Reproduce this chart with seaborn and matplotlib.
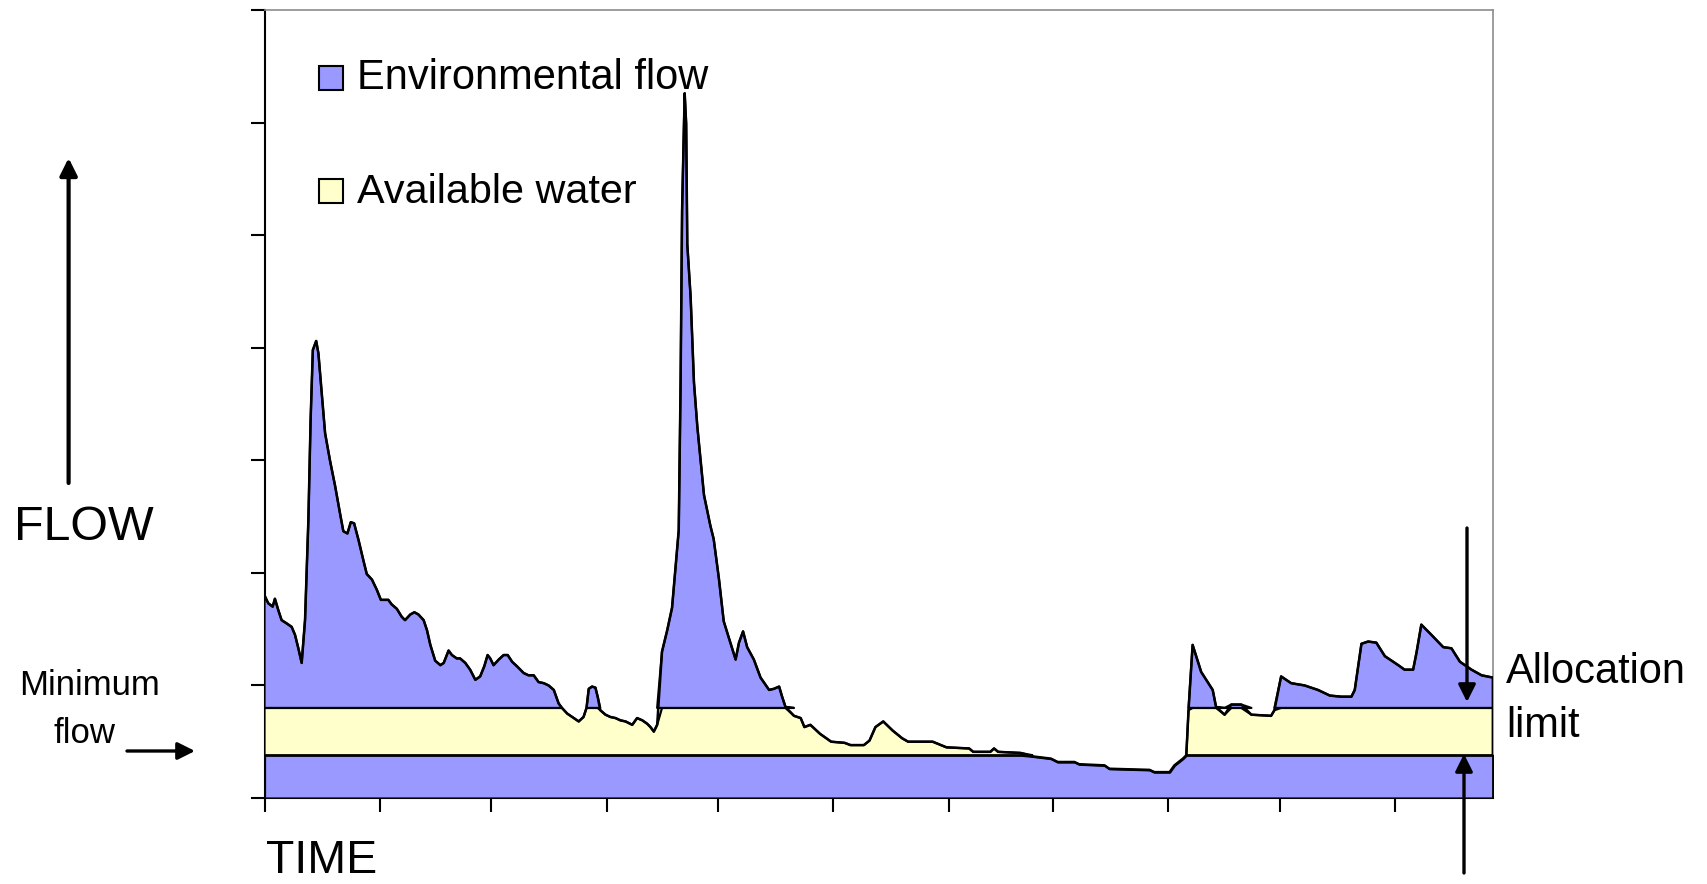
import numpy as np
import matplotlib
matplotlib.use("Agg")
import matplotlib.pyplot as plt
from matplotlib.patches import Rectangle
import seaborn as sns

# Hydrograph (day of record, flow in axis units)
days = [0, 1, 2.2, 2.8, 3.7, 4.6, 6, 7.3, 8.2, 9.1, 10, 10.9, 11.8, 12.4, 13, 13.9,
        14.5, 15.4, 16.3, 17.6, 19, 20.3, 21.2, 22.3, 23.2, 24.1, 25.3, 26.6, 27.5,
        28.9, 30.2, 31.3, 32.5, 33.3, 34.2, 35.6, 36.9, 37.8, 39.2, 40.3, 41.4, 42.8,
        43.7, 44.6, 45.9, 47.3, 48.2, 49.5, 50.4, 51.7, 52.6, 54, 55.3, 56.7, 58,
        59.1, 60, 60.7, 61.6, 63, 64.3, 65.4, 66.6, 67.9, 69.7, 71, 72.4, 73.7, 75.1,
        76.4, 77.8, 79.1, 80, 81.4, 83.2, 84.5, 85.8, 86.6, 87.2, 88.1, 89, 89.6,
        90.3, 91.7, 93, 94.4, 95.7, 97.1, 98.9, 100.2, 101.6, 102.9, 103.8, 104.7,
        105.6, 106.9, 108.3, 109.6, 110.5, 111.4, 111.9, 112.3, 112.8, 113.0, 113.4,
        113.7, 114.6, 115.5, 116.4, 117.3, 118.2, 119.9, 120.8, 122.2, 123.5, 124.9,
        126.7, 127.6, 128.7, 129.8, 131.6, 133.4, 135.7, 137.0, 138.4, 139.2, 140.1,
        142.4, 144.2, 145.2, 146.8, 149.4, 152.4, 156.0, 157.6, 161.2, 162.7, 164.3,
        166.4, 168.9, 171.5, 173.1, 179.7, 183.4, 189.5, 190.6, 195.2, 196.2, 197.3,
        203.4, 206.5, 211.5, 213.3, 217.8, 219.1, 225.9, 227.2, 238.0, 239.3, 243.4,
        244.7, 247.0, 247.9, 248.5, 249.6, 251.9, 255.0, 255.9, 258.2, 260.0, 262.7,
        265.4, 270.7, 271.6, 273.4, 276.1, 279.7, 283.3, 286.5, 289.6, 292.3, 293.2,
        295.0, 296.8, 299.0, 301.3, 304.9, 306.6, 308.9, 309.8, 311.1, 313.8, 317.0,
        319.2, 321.5, 324.6, 327.3, 330.3]
flow = [1.80, 1.73, 1.70, 1.77, 1.67, 1.58, 1.55, 1.52, 1.45, 1.33, 1.20, 1.58, 2.47,
        3.36, 3.98, 4.06, 3.95, 3.59, 3.24, 3.00, 2.77, 2.53, 2.37, 2.35, 2.45, 2.44,
        2.29, 2.11, 1.99, 1.94, 1.85, 1.76, 1.76, 1.76, 1.72, 1.68, 1.61, 1.58, 1.63,
        1.65, 1.63, 1.58, 1.49, 1.36, 1.22, 1.18, 1.20, 1.31, 1.27, 1.24, 1.24, 1.20,
        1.14, 1.05, 1.08, 1.17, 1.27, 1.24, 1.18, 1.23, 1.27, 1.27, 1.21, 1.17, 1.11,
        1.09, 1.09, 1.03, 1.02, 1.00, 0.96, 0.84, 0.80, 0.75, 0.71, 0.68, 0.72, 0.80,
        0.97, 0.99, 0.98, 0.90, 0.78, 0.74, 0.72, 0.71, 0.69, 0.68, 0.65, 0.71, 0.69,
        0.66, 0.63, 0.59, 0.65, 1.30, 1.49, 1.69, 2.03, 2.38, 3.69, 5.22, 5.99, 6.26,
        5.99, 4.92, 4.45, 3.69, 3.30, 2.99, 2.69, 2.42, 2.30, 1.95, 1.57, 1.42, 1.23,
        1.38, 1.48, 1.34, 1.23, 1.07, 0.96, 0.97, 0.99, 0.90, 0.81, 0.73, 0.71, 0.63,
        0.65, 0.57, 0.50, 0.49, 0.47, 0.47, 0.51, 0.63, 0.68, 0.60, 0.53, 0.50, 0.50,
        0.45, 0.44, 0.41, 0.41, 0.44, 0.41, 0.40, 0.37, 0.35, 0.32, 0.32, 0.30, 0.29,
        0.26, 0.25, 0.23, 0.23, 0.29, 0.35, 0.38, 0.78, 1.36, 1.12, 0.96, 0.81, 0.74,
        0.83, 0.83, 0.74, 0.73, 0.78, 1.08, 1.02, 1.00, 0.96, 0.91, 0.90, 0.90, 0.96,
        1.37, 1.39, 1.38, 1.26, 1.18, 1.14, 1.14, 1.29, 1.54, 1.45, 1.34, 1.33, 1.21,
        1.14, 1.09, 1.07]

min_flow = 0.38
alloc_limit = 0.80
month_starts = [0, 31, 61, 92, 122, 153, 184, 212, 243, 273, 304]
y_ticks = [0, 1, 2, 3, 4, 5, 6, 7]

BLUE = "#9999ff"
YELLOW = "#ffffcc"
W, H = 1707, 884

sns.set_theme(style="white")
plt.rcParams["font.family"] = ["Liberation Sans", "DejaVu Sans"]

x = np.array(days)
q = np.array(flow)

fig = plt.figure(figsize=(W / 100, H / 100), dpi=100)
ax = fig.add_axes([264.5 / W, 86 / H, 1228.2 / W, 788 / H])

# bands: base flow, available water, environmental flow above the limit
ax.fill_between(x, 0, np.minimum(q, min_flow), facecolor=BLUE, edgecolor="black",
                lw=1.6, zorder=3)
ax.fill_between(x, min_flow, np.clip(q, min_flow, alloc_limit), where=q > min_flow,
                interpolate=True, facecolor=YELLOW, edgecolor="black", lw=1.6, zorder=3)
ax.fill_between(x, alloc_limit, np.maximum(q, alloc_limit), where=q > alloc_limit,
                interpolate=True, facecolor=BLUE, edgecolor="black", lw=1.6, zorder=3)
sns.lineplot(x=x, y=q, color="black", lw=1.8, ax=ax, zorder=4)

ax.set_xlim(0, 330.3)
ax.set_ylim(0, 7)
ax.set_xticks(month_starts)
ax.set_yticks(y_ticks)
ax.set_xlabel("")
ax.set_ylabel("")
ax.tick_params(axis="both", direction="out", length=10, width=1.5, color="black",
               bottom=True, left=True, labelbottom=False, labelleft=False)
for side in ["left", "bottom"]:
    ax.spines[side].set_color("black")
    ax.spines[side].set_linewidth(1.5)
for side in ["top", "right"]:
    ax.spines[side].set_color("#8c8c8c")
    ax.spines[side].set_linewidth(1.2)


def fpos(px, py):
    # pixel position from top-left -> figure fraction
    return px / W, 1 - py / H


# legend boxes
for top, color, label, base, size in [(66, BLUE, "Environmental flow", 89, 30),
                                      (179, YELLOW, "Available water", 203, 29.8)]:
    fx, fy = fpos(319, top + 24)
    fig.add_artist(Rectangle((fx, fy), 24 / W, 24 / H, transform=fig.transFigure,
                             facecolor=color, edgecolor="black", lw=1.5))
    tx, ty = fpos(357, base)
    fig.text(tx, ty, label, fontsize=size, va="baseline", ha="left", color="black")

texts = [("FLOW", 14, 540, 34.8, "left"),
         ("TIME", 266, 873, 33.5, "left"),
         ("Minimum", 90, 695, 25, "center"),
         ("flow", 84, 743, 25, "center"),
         ("Allocation", 1506, 683, 30, "left"),
         ("limit", 1506, 737, 30, "left")]
for s, px, py, size, ha in texts:
    tx, ty = fpos(px, py)
    fig.text(tx, ty, s, fontsize=size, va="baseline", ha=ha, color="black")

arrows = [((68.6, 483), (68.6, 158), 3.0),
          ((127, 751), (195, 751), 2.4),
          ((1467, 528), (1467, 702), 2.4),
          ((1464, 873), (1464, 754), 2.4)]
for (x0, y0), (x1, y1), lw in arrows:
    ax.annotate("", xy=(x1, H - y1), xytext=(x0, H - y0),
                xycoords="figure pixels", textcoords="figure pixels",
                arrowprops=dict(arrowstyle="-|>", color="black", lw=lw,
                                mutation_scale=26, shrinkA=0, shrinkB=0),
                annotation_clip=False, zorder=6)

fig.savefig("out.png", dpi=100)
